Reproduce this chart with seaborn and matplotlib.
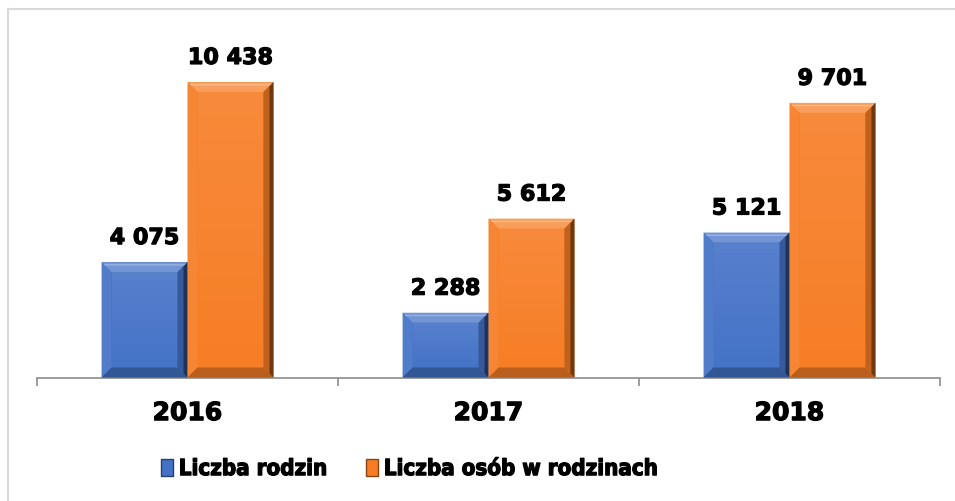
import matplotlib
matplotlib.use("Agg")
import matplotlib.pyplot as plt
import matplotlib.patheffects as pe
import seaborn as sns
import pandas as pd
import numpy as np
from matplotlib.patches import Polygon, Rectangle
from matplotlib.transforms import IdentityTransform
from matplotlib.lines import Line2D
from matplotlib.colors import to_rgb

years = ["2016", "2017", "2018"]
series = ["Liczba rodzin", "Liczba osób w rodzinach"]
rodziny = [4075, 2288, 5121]
osoby = [10438, 5612, 9701]
colors = ["#4472c6", "#f67d25"]

df = pd.DataFrame({
    "year": years * 2,
    "series": [series[0]] * 3 + [series[1]] * 3,
    "value": rodziny + osoby,
})

sns.set_theme(style="white")
plt.rcParams["font.family"] = ["DejaVu Sans"]
plt.rcParams["text.color"] = "black"

heavy = [pe.withStroke(linewidth=0.9, foreground="black")]

fig = plt.figure(figsize=(9.55, 5.01), dpi=100)
ax = fig.add_axes([37 / 955, 1 - 377.5 / 501, 903 / 955, 339.7 / 501])

sns.barplot(data=df, x="year", y="value", hue="series", palette=colors,
            width=0.571, gap=0, saturation=1, legend=False, ax=ax,
            edgecolor="none", linewidth=0)

ax.set_xlim(-0.5, 2.5)
ax.set_ylim(0, 12000)
ax.set_xlabel("")
ax.set_ylabel("")
ax.set_yticks([])
for s in ["left", "top", "right"]:
    ax.spines[s].set_visible(False)
ax.spines["bottom"].set_color("#8c8c8c")
ax.spines["bottom"].set_linewidth(1.2)
ax.set_xticks(range(len(years)))
ax.set_xticklabels(years, fontsize=18, fontweight="bold", color="black")
for t in ax.get_xticklabels():
    t.set_path_effects(heavy)
ax.set_xticks([-0.5, 0.5, 1.5, 2.5], minor=True)
ax.tick_params(axis="x", which="major", length=0, pad=17)
ax.tick_params(axis="x", which="minor", length=6, width=1.2, color="#8c8c8c",
               direction="out", bottom=True)

# value labels
def fmt(v):
    return f"{int(round(v)):,}".replace(",", " ")

for p in ax.patches:
    h = p.get_height()
    if h <= 0:
        continue
    ax.annotate(fmt(h), (p.get_x() + p.get_width() / 2, h),
                xytext=(0, 13), textcoords="offset points",
                ha="center", va="baseline", fontsize=16, fontweight="bold",
                color="black", path_effects=heavy)

# bevel effect
fig.canvas.draw()
def blend(c, t, amt):
    c = np.array(to_rgb(c)); t = np.array(to_rgb(t))
    return tuple(c * (1 - amt) + t * amt)

def poly(pts, c, z=3):
    fig.add_artist(Polygon(pts, closed=True, facecolor=c, edgecolor="none",
                           transform=IdentityTransform(), zorder=z))

b = 10
for p in list(ax.patches):
    h = p.get_height()
    if h <= 0:
        continue
    fc = p.get_facecolor()[:3]
    bb = p.get_window_extent()
    x0, y0, x1, y1 = bb.x0, bb.y0, bb.x1, bb.y1
    n = 12
    for i in range(n):
        ya = y0 + b + (y1 - y0 - 2 * b) * i / n
        yb = y0 + b + (y1 - y0 - 2 * b) * (i + 1) / n
        amt = 0.10 * (i + 0.5) / n
        poly([(x0 + b, ya), (x1 - b, ya), (x1 - b, yb), (x0 + b, yb)],
             blend(fc, "white", amt), z=2.9)
    poly([(x0, y1), (x1, y1), (x1 - b, y1 - b), (x0 + b, y1 - b)], blend(fc, "white", 0.25))
    poly([(x0, y0), (x0, y1), (x0 + b, y1 - b), (x0 + b, y0 + b)], blend(fc, "white", 0.07))
    poly([(x1, y0), (x1, y1), (x1 - b, y1 - b), (x1 - b, y0 + b)], blend(fc, "black", 0.22))
    poly([(x0, y0), (x1, y0), (x1 - b, y0 + b), (x0 + b, y0 + b)], blend(fc, "black", 0.25))
    poly([(x1 - 4, y0 + 4), (x1, y0), (x1, y1), (x1 - 4, y1 - 4)], blend(fc, "black", 0.55))
    poly([(x0 + 2, y1 - 2), (x1 - 2, y1 - 2), (x1 - 3.5, y1 - 3.5), (x0 + 3.5, y1 - 3.5)],
         blend(fc, "white", 0.45))

# legend
handles = [Rectangle((0, 0), 1, 1, facecolor=c, edgecolor=blend(c, "black", 0.45), linewidth=1.0)
           for c in colors]
leg = fig.legend(handles, series, loc="center left", bbox_to_anchor=(141 / 955, 1 - 469 / 501),
                 ncol=2, frameon=False, handlelength=0.55, handleheight=0.8,
                 handletextpad=0.25, columnspacing=1.75,
                 prop={"size": 16, "weight": "bold", "family": "DejaVu Sans",
                       "stretch": "condensed"})
for t in leg.get_texts():
    t.set_color("black")
    t.set_path_effects(heavy)

# frame lines (left and top)
fig.add_artist(Line2D([7.5 / 955, 7.5 / 955], [0, 1 - 8.5 / 501], color="#d9d9d9", linewidth=1.5,
                      transform=fig.transFigure))
fig.add_artist(Line2D([7.5 / 955, 1], [1 - 8.5 / 501, 1 - 8.5 / 501], color="#d9d9d9", linewidth=1.5,
                      transform=fig.transFigure))

fig.savefig("out.png", dpi=100)
